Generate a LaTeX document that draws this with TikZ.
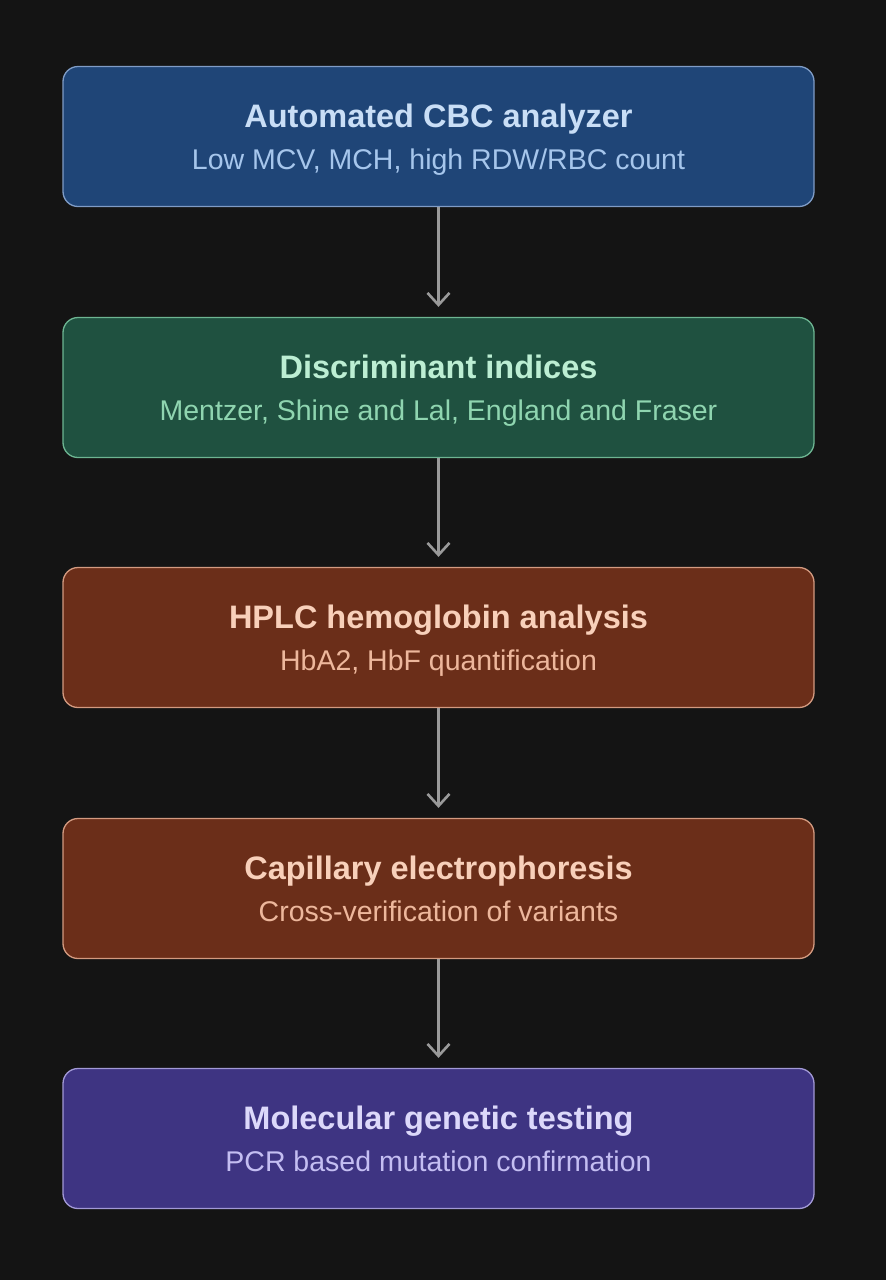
\documentclass[tikz,border=0pt]{standalone}
\usepackage{fontspec}
\setmainfont{Liberation Sans}
\usetikzlibrary{arrows.meta}
\definecolor{bg}{HTML}{141414}
\definecolor{bluefill}{HTML}{1F4577}
\definecolor{blueline}{HTML}{7F9CC6}
\definecolor{bluetitle}{HTML}{C9DEF6}
\definecolor{bluesub}{HTML}{A6C6EC}
\definecolor{greenfill}{HTML}{1F5140}
\definecolor{greenline}{HTML}{6DB592}
\definecolor{greentitle}{HTML}{BCEED3}
\definecolor{greensub}{HTML}{8FD5B0}
\definecolor{brownfill}{HTML}{6B2E19}
\definecolor{brownline}{HTML}{D39A80}
\definecolor{browntitle}{HTML}{F8D0BA}
\definecolor{brownsub}{HTML}{EDB79C}
\definecolor{purplefill}{HTML}{3E3482}
\definecolor{purpleline}{HTML}{A299D6}
\definecolor{purpletitle}{HTML}{DCD8FA}
\definecolor{purplesub}{HTML}{C4BEF2}
\definecolor{arrowgray}{HTML}{9A9A9A}
\tikzset{
  stepbox/.style={draw, rounded corners=15pt, line width=1.3pt, minimum width=751pt, minimum height=140pt, inner sep=0pt},
  ttl/.style={anchor=base, inner sep=0pt, font=\fontsize{32.5}{38}\selectfont\bfseries},
  sub/.style={anchor=base, inner sep=0pt, font=\fontsize{28.5}{34}\selectfont},
  flow/.style={draw=arrowgray, line width=2.6pt, -{Straight Barb[length=12pt,width=22pt,line width=2.6pt]}}
}
\begin{document}
\begin{tikzpicture}[x=1pt,y=-1pt]
\useasboundingbox[fill=bg] (0,0) rectangle (886,1280);
\node[stepbox, fill=bluefill, draw=blueline] (b1) at (438.5,136.5) {};
\node[stepbox, fill=greenfill, draw=greenline] (b2) at (438.5,387.5) {};
\node[stepbox, fill=brownfill, draw=brownline] (b3) at (438.5,637.5) {};
\node[stepbox, fill=brownfill, draw=brownline] (b4) at (438.5,888.5) {};
\node[stepbox, fill=purplefill, draw=purpleline] (b5) at (438.5,1138.5) {};
\node[ttl, text=bluetitle] (t1) at ([yshift=-62pt]b1.north) {Automated CBC analyzer};
\node[sub, text=bluesub] (s1) at ([yshift=-104pt]b1.north) {Low MCV, MCH, high RDW/RBC count};
\node[ttl, text=greentitle] (t2) at ([yshift=-62pt]b2.north) {Discriminant indices};
\node[sub, text=greensub] (s2) at ([yshift=-104pt]b2.north) {Mentzer, Shine and Lal, England and Fraser};
\node[ttl, text=browntitle] (t3) at ([yshift=-62pt]b3.north) {HPLC hemoglobin analysis};
\node[sub, text=brownsub] (s3) at ([yshift=-104pt]b3.north) {HbA2, HbF quantification};
\node[ttl, text=browntitle] (t4) at ([yshift=-62pt]b4.north) {Capillary electrophoresis};
\node[sub, text=brownsub] (s4) at ([yshift=-104pt]b4.north) {Cross-verification of variants};
\node[ttl, text=purpletitle] (t5) at ([yshift=-62pt]b5.north) {Molecular genetic testing};
\node[sub, text=purplesub] (s5) at ([yshift=-104pt]b5.north) {PCR based mutation confirmation};
\draw[flow] (b1.south) -- ([yshift=10pt]b2.north);
\draw[flow] (b2.south) -- ([yshift=10pt]b3.north);
\draw[flow] (b3.south) -- ([yshift=10pt]b4.north);
\draw[flow] (b4.south) -- ([yshift=10pt]b5.north);
\end{tikzpicture}
\end{document}
